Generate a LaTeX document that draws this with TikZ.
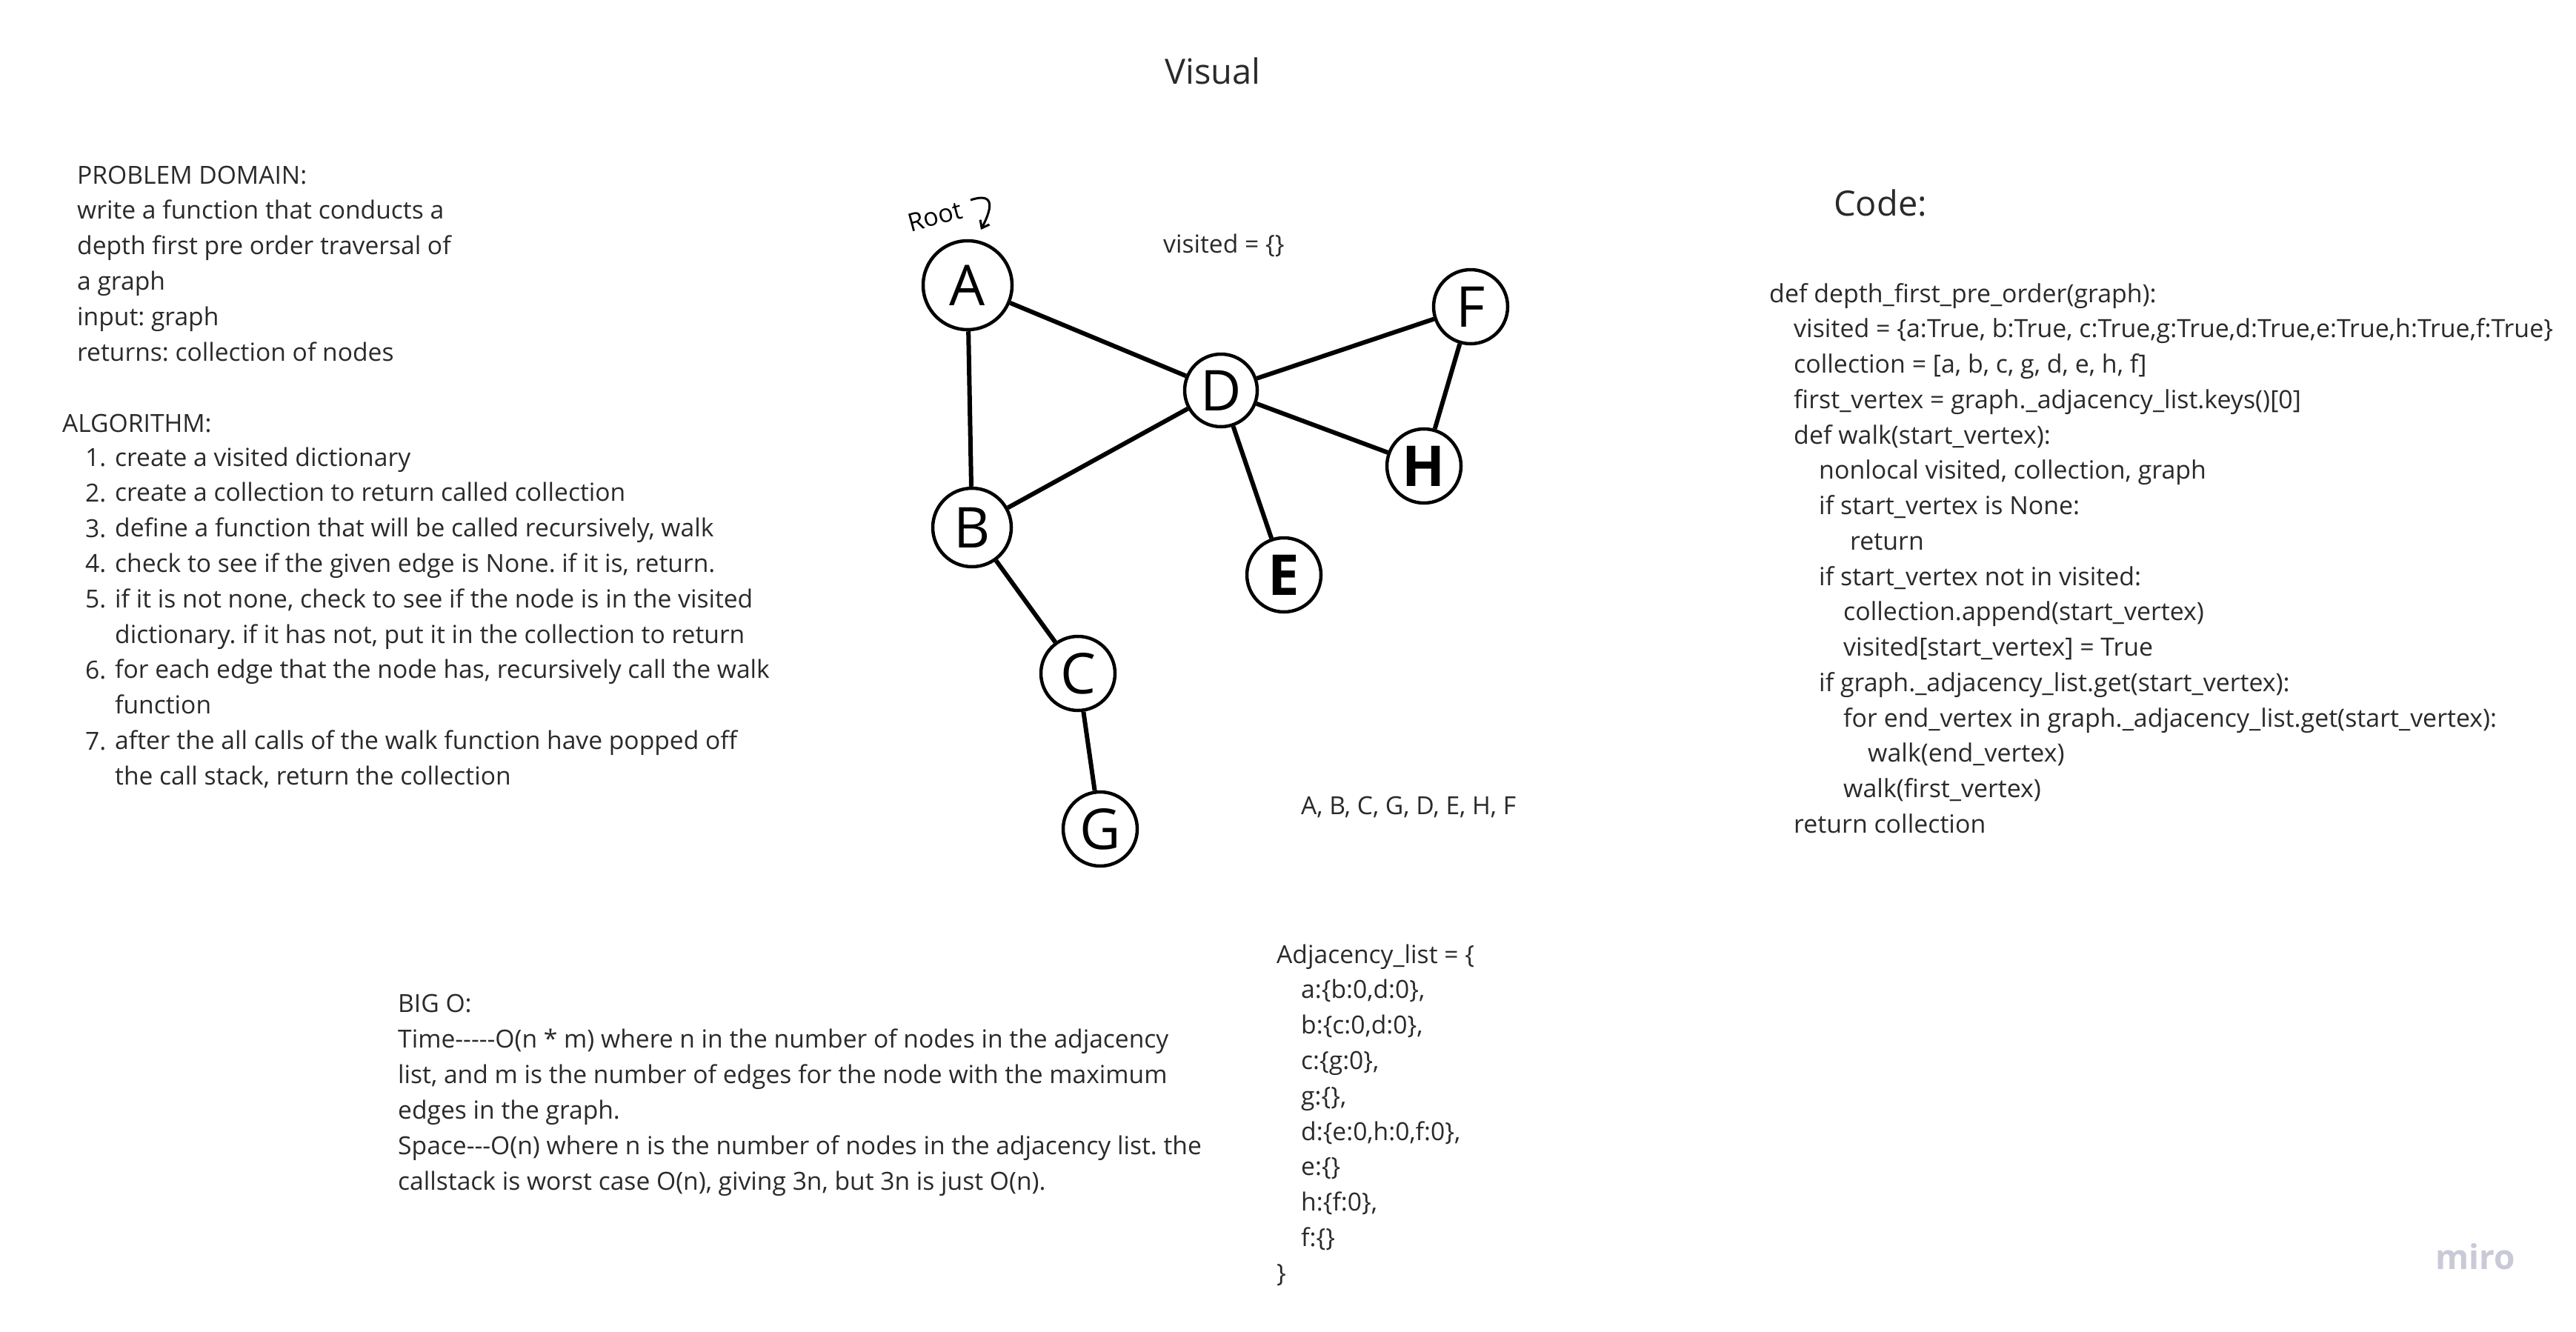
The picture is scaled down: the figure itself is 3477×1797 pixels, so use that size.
\documentclass[tikz,border=0pt]{standalone}
\usepackage{fontspec}
\setmainfont{Open Sans}[Ligatures=TeXOff]
\usetikzlibrary{arrows.meta}
\definecolor{ink}{HTML}{2A2A2A}
\definecolor{miro}{HTML}{C9C9D8}
\frenchspacing
\begin{document}
\begin{tikzpicture}[x=1pt,y=-1pt,
  txt/.style={anchor=base west, inner sep=0pt, text=ink, font=\fontsize{33.6}{40}\selectfont},
  cde/.style={anchor=base west, inner sep=0pt, text=ink, font=\fontsize{33.9}{40}\selectfont},
  ttl/.style={anchor=base west, inner sep=0pt, text=ink, font=\fontsize{47}{56}\selectfont},
  vtx/.style={circle, draw=black, line width=4.5pt, fill=white, minimum size=#1, inner sep=0pt, font=\fontsize{76}{80}\selectfont},
  edge/.style={line width=6pt, black}]
\fill[white] (0,0) rectangle (3477,1797);
\useasboundingbox (0,0) rectangle (3477,1797);

% titles
\node[ttl] (visual) at (1572,113) {Visual};
\node[ttl] (code) at (2475,291) {Code:};

% problem domain
\foreach \t [count=\i from 0] in {{PROBLEM DOMAIN:},{write a function that conducts a},{depth first pre order traversal of},{a graph},{input: graph},{returns: collection of nodes}}
  \node[txt] (pd\i) at (104,248+\i*47.9) {\t};
\node[txt] (alg) at (84,583) {ALGORITHM:};
\foreach \n/\y in {1/629,2/677,3/725,4/772,5/820,6/916,7/1012}
  \node[txt] (num\n) at (115,\y) {\n.};
\foreach \t [count=\i from 0] in {{create a visited dictionary},{create a collection to return called collection},{define a function that will be called recursively, walk},{check to see if the given edge is None. if it is, return.},{if it is not none, check to see if the node is in the visited},{dictionary. if it has not, put it in the collection to return},{for each edge that the node has, recursively call the walk},{function},{after the all calls of the walk function have popped off},{the call stack, return the collection}}
  \node[txt] (alg\i) at (155,629+\i*47.8) {\t};

% code
\foreach \x/\t [count=\i from 0] in {
 2388/{def depth\_first\_pre\_order(graph):},
 2421/{visited = \{a:True, b:True, c:True,g:True,d:True,e:True,h:True,f:True\}},
 2421/{collection = [a, b, c, g, d, e, h, f]},
 2421/{first\_vertex = graph.\_adjacency\_list.keys()[0]},
 2421/{def walk(start\_vertex):},
 2455/{nonlocal visited, collection, graph},
 2455/{if start\_vertex is None:},
 2497/{return},
 2455/{if start\_vertex not in visited:},
 2488/{collection.append(start\_vertex)},
 2488/{visited[start\_vertex] = True},
 2455/{if graph.\_adjacency\_list.get(start\_vertex):},
 2488/{for end\_vertex in graph.\_adjacency\_list.get(start\_vertex):},
 2521/{walk(end\_vertex)},
 2488/{walk(first\_vertex)},
 2421/{return collection}}
  \node[cde] (code\i) at (\x,408+\i*47.75) {\t};

% labels near graph
\node[txt] (visited) at (1570,341) {visited = \{\}};
\node[txt] (order) at (1756,1099) {A, B, C, G, D, E, H, F};

% adjacency list
\foreach \x/\t [count=\i from 0] in {
 1723/{Adjacency\_list = \{},
 1756/{a:\{b:0,d:0\},},
 1756/{b:\{c:0,d:0\},},
 1756/{c:\{g:0\},},
 1756/{g:\{\},},
 1756/{d:\{e:0,h:0,f:0\},},
 1756/{e:\{\}},
 1756/{h:\{f:0\},},
 1756/{f:\{\}},
 1723/{\}}}
  \node[txt] (adj\i) at (\x,1300+\i*47.8) {\t};

% big O
\foreach \t [count=\i from 0] in {{BIG O:},{Time-----O(n * m) where n in the number of nodes in the adjacency},{list, and m is the number of edges for the node with the maximum},{edges in the graph.},{Space---O(n) where n is the number of nodes in the adjacency list. the},{callstack is worst case O(n), giving 3n, but 3n is just O(n).}}
  \node[txt] (bigo\i) at (537,1366+\i*48) {\t};

% graph
\node[vtx=120] (A) at (1306,385) {A};
\node[vtx=106] (B) at (1312,712) {B};
\node[vtx=100] (C) at (1455,909) {C};
\node[vtx=100] (G) at (1485,1119) {G};
\node[vtx=98]  (D) at (1648,527) {D};
\node[vtx=100] (E) at (1733,776) {\bfseries E};
\node[vtx=100] (F) at (1985,414) {F};
\node[vtx=100] (H) at (1922,629) {\bfseries H};
\draw[edge] (A) -- (D);
\draw[edge] (A) -- (B);
\draw[edge] (B) -- (D);
\draw[edge] (B) -- (C);
\draw[edge] (C) -- (G);
\draw[edge] (D) -- (F);
\draw[edge] (D) -- (H);
\draw[edge] (D) -- (E);
\draw[edge] (F) -- (H);

% root annotation
\node[inner sep=0pt, rotate=15, text=black, font=\fontsize{34}{40}\selectfont] (root) at (1262,292) {Root};
\coordinate (rootS) at (1310,270);
\coordinate (rootE) at (1324,310);
\draw[line width=3pt, -{Straight Barb[length=9pt,width=14pt]}] (rootS) .. controls (1346,258) and (1337,285) .. (rootE);

% miro logo
\node[anchor=base west, inner sep=0pt, text=miro, font=\fontsize{46}{50}\selectfont\bfseries] (logo) at (3287,1713) {miro};
\end{tikzpicture}
\end{document}
